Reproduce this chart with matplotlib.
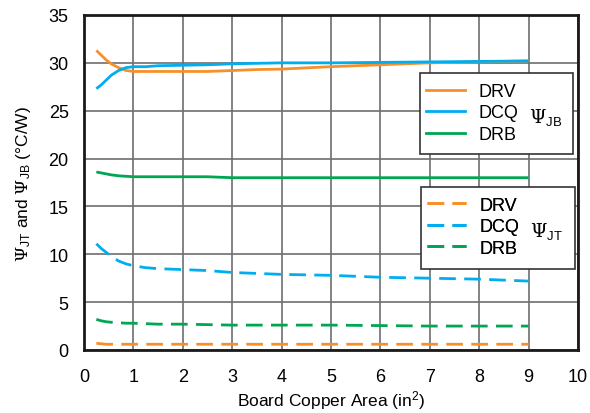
import matplotlib
matplotlib.use('Agg')
import matplotlib.pyplot as plt
from matplotlib.lines import Line2D
from matplotlib.patches import Rectangle

plt.rcParams['font.family'] = ['Liberation Sans', 'DejaVu Sans']
plt.rcParams['mathtext.fontset'] = 'dejavuserif'

# board copper area (in^2)
area = [0.25, 0.35, 0.45, 0.55, 0.7, 0.85, 1.0, 1.25, 1.5, 2.0, 2.5, 3.0, 3.5, 4.0,
        5.0, 6.0, 7.0, 8.0, 9.0]

# Psi_JB (solid)
jb_drv = [31.3, 30.8, 30.3, 29.9, 29.5, 29.2, 29.1, 29.1, 29.1, 29.1, 29.1, 29.2, 29.3, 29.35,
          29.6, 29.8, 30.0, 30.1, 30.2]
jb_dcq = [27.3, 27.7, 28.2, 28.7, 29.2, 29.5, 29.6, 29.6, 29.7, 29.75, 29.8, 29.9, 29.95, 30.0,
          30.0, 30.05, 30.1, 30.15, 30.2]
jb_drb = [18.6, 18.5, 18.4, 18.3, 18.2, 18.15, 18.1, 18.1, 18.1, 18.1, 18.1, 18.0, 18.0, 18.0,
          18.0, 18.0, 18.0, 18.0, 18.0]

# Psi_JT (dashed)
jt_drv = [0.7, 0.65, 0.6, 0.6, 0.6, 0.6, 0.6, 0.6, 0.6, 0.6, 0.6, 0.6, 0.6, 0.6,
          0.6, 0.6, 0.6, 0.6, 0.6]
jt_dcq = [11.1, 10.6, 10.2, 9.8, 9.3, 9.0, 8.8, 8.6, 8.5, 8.4, 8.3, 8.1, 8.0, 7.9,
          7.8, 7.6, 7.5, 7.4, 7.2]
jt_drb = [3.2, 3.05, 2.95, 2.9, 2.85, 2.8, 2.8, 2.75, 2.7, 2.7, 2.65, 2.6, 2.6, 2.6,
          2.6, 2.55, 2.5, 2.5, 2.5]

names = ['DRV', 'DCQ', 'DRB']
colors = ['#F7902A', '#00AEEF', '#00A651']

fig = plt.figure(figsize=(5.9, 4.14), dpi=100)
ax = fig.add_axes([84/590, 63/414, 494/590, 335/414])

lw = 2.0
for y, c in zip([jb_drv, jb_dcq, jb_drb], colors):
    ax.plot(area, y, color=c, lw=lw, solid_capstyle='butt')
for y, c in zip([jt_drv, jt_dcq, jt_drb], colors):
    ax.plot(area, y, color=c, lw=lw, dashes=(6, 3))

ax.set_xlim(0, 10)
ax.set_ylim(0, 35)
ax.set_xticks(range(0, 11))
ax.set_yticks(range(0, 36, 5))
ax.grid(True, color='#6e6e6e', lw=1.2)
ax.set_axisbelow(True)
ax.tick_params(length=0, labelsize=13)
ax.tick_params(axis='x', pad=13)
ax.tick_params(axis='y', pad=11)
for s in ax.spines.values():
    s.set_linewidth(2)
    s.set_color('#1a1a1a')

ax.set_xlabel('Board Copper Area (in$^\\mathregular{2}$)', fontsize=12.5, labelpad=2)
ax.set_ylabel('$\\Psi_{\\mathregular{JT}}$ and $\\Psi_{\\mathregular{JB}}$ (°C/W)',
              fontsize=12.5, labelpad=11)

# legend boxes
boxes = [(0.680, 0.585, 0.310, 0.242, '-', 'JB'), (0.682, 0.242, 0.312, 0.245, '--', 'JT')]
for x0, y0, w, h, ls, sub in boxes:
    ax.add_patch(Rectangle((x0, y0), w, h, transform=ax.transAxes, facecolor='white',
                           edgecolor='#333333', lw=1.2, zorder=5))
    handles = [Line2D([], [], color=c, lw=lw, ls=ls) for c in colors]
    if ls == '--':
        for hd in handles:
            hd.set_dashes((6, 3))
    leg = ax.legend(handles, names, loc='upper left', bbox_to_anchor=(x0 - 0.003, y0 + h - 0.008),
                    frameon=False, fontsize=13, handlelength=2.2, handletextpad=0.75,
                    labelspacing=0.25, borderaxespad=0)
    leg.set_zorder(6)
    ax.add_artist(leg)
    ax.text(x0 + 0.255, y0 + h / 2 - 0.008, '$\\Psi_{\\mathregular{%s}}$' % sub,
            transform=ax.transAxes, fontsize=13.5, ha='center', va='center', zorder=7)

fig.savefig('out.png', dpi=100)
